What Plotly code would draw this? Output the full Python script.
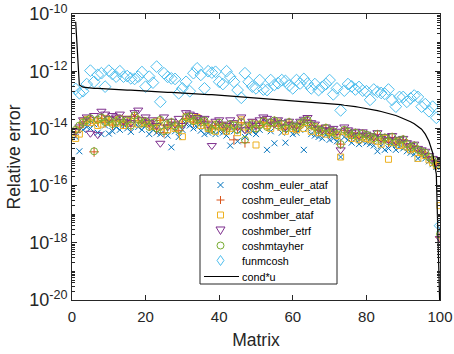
import plotly.graph_objects as go

matrix_idx = list(range(1, 101))

# log10 of relative errors
log_coshm_euler_ataf = [
    -14.30, -14.80, -14.05, -13.95, -14.00, -13.85, -14.15, -14.20, -13.90, -14.18,
    -14.10, -13.95, -14.05, -13.85, -14.00, -14.12, -13.80, -13.95, -14.05, -13.90,
    -14.20, -14.05, -14.15, -14.20, -13.95, -14.25, -14.66, -14.10, -14.30, -14.05,
    -13.85, -13.90, -14.00, -13.95, -14.08, -14.20, -14.15, -14.05, -14.20, -14.10,
    -14.15, -14.25, -14.60, -14.10, -14.45, -14.05, -14.30, -14.15, -14.10, -14.20,
    -14.05, -13.70, -14.75, -14.10, -14.52, -13.75, -14.15, -14.50, -14.05, -14.20,
    -14.15, -14.05, -14.75, -14.00, -14.20, -14.25, -14.30, -14.35, -14.22, -14.40,
    -14.35, -14.45, -15.00, -14.30, -14.40, -14.50, -14.38, -14.55, -14.45, -14.50,
    -14.55, -14.60, -14.80, -14.62, -14.75, -14.70, -14.58, -14.75, -14.65, -14.70,
    -14.80, -14.85, -14.90, -15.05, -14.95, -15.05, -15.15, -15.25, -15.35, -17.50]

log_coshm_euler_etab = [
    -14.15, -13.95, -13.82, -13.75, -13.70, -14.82, -13.75, -13.65, -13.80, -13.72,
    -13.88, -13.72, -13.70, -13.85, -13.75, -13.92, -13.58, -13.72, -13.80, -13.78,
    -13.92, -13.85, -14.02, -13.72, -14.15, -13.88, -13.80, -13.90, -14.08, -13.82,
    -13.65, -13.60, -13.78, -13.70, -13.82, -13.75, -13.98, -14.02, -13.90, -13.85,
    -13.98, -14.05, -13.88, -14.40, -14.02, -13.80, -14.50, -13.95, -13.88, -13.98,
    -13.90, -13.78, -13.92, -13.82, -13.75, -13.92, -13.88, -14.02, -13.80, -13.95,
    -13.98, -13.85, -13.78, -13.72, -13.90, -13.98, -14.08, -14.12, -14.00, -14.18,
    -14.12, -14.22, -14.55, -14.08, -14.15, -14.28, -14.18, -14.32, -14.20, -14.25,
    -14.30, -14.38, -14.22, -14.42, -14.35, -14.48, -14.32, -14.52, -14.45, -14.40,
    -14.58, -14.68, -14.62, -14.78, -14.82, -14.88, -15.02, -15.12, -15.28, -17.80]

log_coshmber_ataf = [
    -14.35, -14.20, -13.75, -13.68, -13.80, -13.72, -13.90, -13.85, -13.65, -13.78,
    -13.70, -13.82, -13.65, -13.90, -13.68, -13.75, -13.62, -13.85, -13.72, -13.80,
    -13.85, -13.92, -13.75, -13.95, -13.80, -14.05, -13.90, -14.00, -13.85, -14.29,
    -13.58, -13.65, -13.72, -13.62, -13.90, -13.78, -14.00, -13.85, -14.10, -13.95,
    -13.90, -14.10, -14.00, -13.85, -14.15, -13.70, -13.95, -14.05, -13.80, -14.58,
    -13.85, -13.72, -13.90, -14.00, -13.82, -13.78, -13.95, -14.10, -13.85, -14.00,
    -14.05, -13.88, -14.00, -13.80, -14.10, -13.92, -14.15, -14.00, -14.20, -14.10,
    -14.15, -14.25, -15.00, -14.10, -14.20, -14.35, -14.25, -14.40, -14.30, -14.35,
    -14.40, -14.30, -14.45, -14.55, -14.35, -15.08, -14.50, -14.45, -14.60, -14.55,
    -14.65, -14.75, -14.70, -15.05, -14.85, -14.95, -15.10, -15.20, -15.30, -16.70]

log_coshmber_etrf = [
    -14.10, -13.95, -13.70, -13.60, -14.17, -13.55, -14.22, -13.40, -13.50, -13.65,
    -13.55, -13.60, -13.50, -13.75, -13.65, -13.80, -13.45, -13.36, -13.70, -13.60,
    -13.80, -13.70, -13.90, -14.52, -13.60, -13.95, -13.75, -13.85, -13.65, -13.90,
    -13.45, -13.50, -13.55, -13.62, -13.70, -13.65, -13.85, -14.60, -13.75, -13.70,
    -13.85, -13.90, -13.70, -13.80, -13.95, -13.60, -14.05, -13.85, -13.75, -13.90,
    -13.70, -13.60, -13.65, -13.75, -13.85, -13.70, -13.80, -13.95, -13.75, -13.85,
    -13.90, -13.75, -13.68, -13.62, -13.80, -13.85, -14.00, -14.05, -13.95, -14.05,
    -14.00, -14.10, -14.75, -13.95, -14.05, -14.15, -14.10, -14.25, -14.12, -14.20,
    -14.25, -14.30, -14.15, -14.35, -14.28, -14.40, -14.25, -14.45, -14.38, -14.35,
    -14.50, -14.60, -14.55, -14.70, -14.75, -14.80, -14.95, -15.05, -15.20, -17.85]

log_coshmtayher = [
    -14.05, -13.90, -13.80, -13.72, -13.65, -14.80, -13.70, -13.62, -13.78, -13.70,
    -13.85, -13.75, -13.68, -13.80, -13.72, -13.90, -13.55, -13.70, -13.82, -13.75,
    -13.95, -13.80, -14.00, -13.70, -14.10, -13.85, -13.78, -13.92, -14.05, -13.80,
    -13.62, -13.58, -13.75, -13.68, -13.80, -13.72, -13.95, -14.05, -13.88, -13.80,
    -13.95, -14.02, -13.85, -13.90, -14.05, -13.78, -14.40, -13.92, -13.85, -14.00,
    -13.88, -13.75, -13.95, -13.80, -13.72, -13.90, -13.85, -14.00, -13.78, -13.92,
    -13.95, -13.82, -13.75, -13.70, -13.88, -13.95, -14.05, -14.10, -13.98, -14.15,
    -14.10, -14.20, -14.55, -14.05, -14.12, -14.25, -14.15, -14.30, -14.18, -14.22,
    -14.28, -14.35, -14.20, -14.40, -14.32, -14.45, -14.30, -14.50, -14.42, -14.38,
    -14.55, -14.65, -14.60, -14.75, -14.80, -14.85, -15.00, -15.10, -15.25, -17.70]

log_funmcosh = [
    -12.62, -12.77, -12.70, -12.45, -11.98, -12.37, -12.13, -12.07, -12.54, -11.98,
    -12.10, -12.19, -12.00, -12.19, -12.17, -12.25, -12.27, -12.19, -12.03, -12.54,
    -12.19, -12.40, -11.84, -13.07, -12.07, -12.20, -12.25, -12.27, -12.77, -12.60,
    -12.37, -12.70, -12.07, -11.90, -12.13, -12.60, -12.00, -12.05, -12.02, -12.37,
    -12.45, -12.00, -12.20, -12.37, -12.66, -12.93, -12.07, -12.37, -12.54, -12.60,
    -12.31, -12.64, -12.66, -12.31, -12.48, -12.42, -12.31, -12.34, -12.50, -12.60,
    -12.31, -12.43, -12.27, -12.43, -12.60, -12.45, -12.66, -12.55, -12.45, -12.31,
    -12.81, -12.60, -13.37, -12.68, -12.45, -12.53, -12.64, -12.55, -12.68, -12.70,
    -13.00, -12.64, -12.72, -12.76, -12.79, -12.64, -13.00, -13.24, -12.90, -12.90,
    -13.07, -12.95, -12.85, -12.90, -13.24, -13.15, -13.40, -13.24, -13.63, -17.40]

log_cond_u = [
    -10.27, -12.48, -12.56, -12.58, -12.59, -12.60, -12.60, -12.61, -12.61, -12.62,
    -12.63, -12.64, -12.64, -12.65, -12.66, -12.66, -12.67, -12.68, -12.68, -12.69,
    -12.70, -12.70, -12.71, -12.72, -12.73, -12.74, -12.74, -12.75, -12.76, -12.77,
    -12.77, -12.78, -12.79, -12.80, -12.80, -12.81, -12.82, -12.82, -12.83, -12.84,
    -12.85, -12.86, -12.86, -12.87, -12.88, -12.89, -12.89, -12.90, -12.91, -12.92,
    -12.93, -12.94, -12.95, -12.96, -12.97, -12.98, -12.99, -13.00, -13.01, -13.02,
    -13.03, -13.04, -13.05, -13.06, -13.07, -13.08, -13.10, -13.11, -13.12, -13.13,
    -13.14, -13.16, -13.17, -13.19, -13.20, -13.22, -13.24, -13.26, -13.28, -13.30,
    -13.33, -13.35, -13.38, -13.41, -13.44, -13.47, -13.51, -13.55, -13.60, -13.65,
    -13.71, -13.77, -13.84, -13.92, -14.03, -14.20, -14.45, -14.85, -15.60, -20.50]

series_names = ["coshm_euler_ataf", "coshm_euler_etab", "coshmber_ataf",
                "coshmber_etrf", "coshmtayher", "funmcosh"]
series_values = [log_coshm_euler_ataf, log_coshm_euler_etab, log_coshmber_ataf,
                 log_coshmber_etrf, log_coshmtayher, log_funmcosh]
line_name = "cond*u"

symbols = ["x-thin-open", "cross-thin-open", "square-open",
           "triangle-down-open", "circle-open", "diamond-open"]
colors = ["#0072BD", "#D95319", "#EDB120", "#7E2F8E", "#77AC30", "#4DBEEE"]
sizes = [6, 7, 6, 8, 7, 9]

fig = go.Figure()
for name, vals, sym, col, sz in zip(series_names, series_values, symbols, colors, sizes):
    fig.add_trace(go.Scatter(
        x=matrix_idx, y=[10 ** v for v in vals], mode="markers", name=name,
        marker=dict(symbol=sym, color=col, size=sz, line=dict(color=col, width=1)),
        showlegend=False))
fig.add_trace(go.Scatter(
    x=matrix_idx, y=[10 ** v for v in log_cond_u], mode="lines", name=line_name,
    line=dict(color="black", width=1.2), showlegend=False))

# ---- compact MATLAB-like legend drawn with shapes + annotations ----
ML, MR, MT, MB = 72, 14, 14, 54
W, H = 454, 354
PW, PH = W - ML - MR, H - MT - MB


def px(xp):
    return (xp - ML) / PW


def py(yp):
    return (H - MB - yp) / PH


shapes = []
annotations = []
lg_left, lg_right, lg_top, lg_bot = 200, 337, 175, 284
shapes.append(dict(type="rect", xref="paper", yref="paper",
                   x0=px(lg_left), x1=px(lg_right), y0=py(lg_bot), y1=py(lg_top),
                   line=dict(color="#262626", width=1), fillcolor="white", layer="above"))
row_y = [185, 200, 215, 230.5, 245.5, 260.5, 276.5]
sym_x = 220.5
text_x = 240


def seg(x0, y0, x1, y1, col):
    shapes.append(dict(type="line", xref="paper", yref="paper",
                       x0=px(x0), y0=py(y0), x1=px(x1), y1=py(y1),
                       line=dict(color=col, width=1), layer="above"))


def path(pts, col):
    d = "M " + " L ".join("%f,%f" % (px(a), py(b)) for a, b in pts) + " Z"
    shapes.append(dict(type="path", xref="paper", yref="paper", path=d,
                       line=dict(color=col, width=1), layer="above"))


for i, (name, col) in enumerate(zip(series_names, colors)):
    cy = row_y[i]
    cx = sym_x
    if i == 0:
        seg(cx - 3, cy - 3, cx + 3, cy + 3, col)
        seg(cx - 3, cy + 3, cx + 3, cy - 3, col)
    elif i == 1:
        seg(cx - 4, cy, cx + 4, cy, col)
        seg(cx, cy - 4, cx, cy + 4, col)
    elif i == 2:
        path([(cx - 3, cy - 3), (cx + 3, cy - 3), (cx + 3, cy + 3), (cx - 3, cy + 3)], col)
    elif i == 3:
        path([(cx - 4.5, cy - 3.5), (cx + 4.5, cy - 3.5), (cx, cy + 4)], col)
    elif i == 4:
        shapes.append(dict(type="circle", xref="paper", yref="paper",
                           x0=px(cx - 3.5), x1=px(cx + 3.5), y0=py(cy + 3.5), y1=py(cy - 3.5),
                           line=dict(color=col, width=1), layer="above"))
    elif i == 5:
        path([(cx, cy - 5), (cx + 3.5, cy), (cx, cy + 5), (cx - 3.5, cy)], col)
    annotations.append(dict(text=name, xref="paper", yref="paper", x=px(text_x), y=py(cy),
                            xanchor="left", yanchor="middle", showarrow=False,
                            font=dict(size=10.8, color="#000000")))
seg(204, row_y[6], 239, row_y[6], "black")
annotations.append(dict(text=line_name, xref="paper", yref="paper", x=px(text_x), y=py(row_y[6]),
                        xanchor="left", yanchor="middle", showarrow=False,
                        font=dict(size=10.8, color="#000000")))

axis_col = "#262626"
major_y = [10.0 ** e for e in range(-20, -9, 2)]
major_y_text = ["10<sup>%d</sup>" % e for e in range(-20, -9, 2)]
minor_y = [m * 10.0 ** e for e in range(-20, -10) for m in range(1, 10) if not (m == 1 and e % 2 == 0)]

fig.update_layout(
    width=W, height=H,
    margin=dict(l=ML, r=MR, t=MT, b=MB),
    paper_bgcolor="white", plot_bgcolor="white",
    font=dict(family="Liberation Sans, Arial, sans-serif", color=axis_col, size=15),
    showlegend=False,
    shapes=shapes, annotations=annotations,
)
fig.update_xaxes(
    range=[0, 100], tickvals=[0, 20, 40, 60, 80, 100],
    ticks="inside", ticklen=5, tickcolor=axis_col,
    showline=True, linecolor=axis_col, linewidth=1, mirror="ticks",
    showgrid=False, zeroline=False, automargin=False,
    ticklabelstandoff=3,
    title=dict(text="Matrix", font=dict(size=17.5), standoff=9),
    tickfont=dict(size=15))
fig.update_yaxes(
    type="log", range=[-20, -10], tickvals=major_y, ticktext=major_y_text,
    ticks="inside", ticklen=5, tickcolor=axis_col,
    minor=dict(tickvals=minor_y, ticks="inside", ticklen=3, tickcolor=axis_col, showgrid=False),
    showline=True, linecolor=axis_col, linewidth=1, mirror="ticks",
    showgrid=False, zeroline=False, automargin=False,
    title=dict(text="Relative error", font=dict(size=17.5), standoff=4),
    tickfont=dict(size=18))

fig.write_html("out.html")
